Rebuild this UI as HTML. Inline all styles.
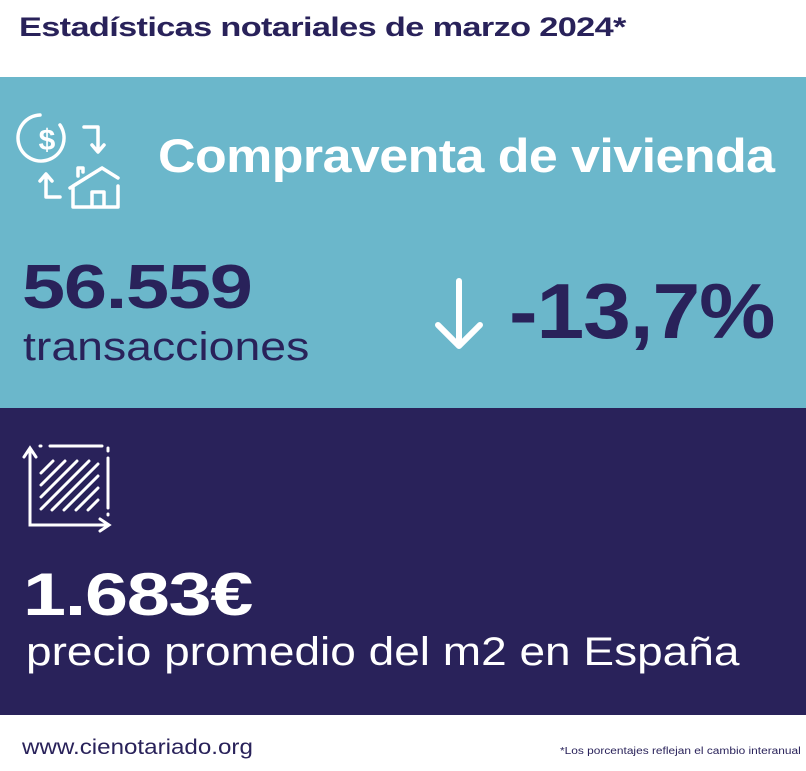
<!DOCTYPE html>
<html><head><meta charset="utf-8"><style>
*{margin:0;padding:0}
body{width:806px;height:771px;background:#fff;position:relative;font-family:"Liberation Sans",sans-serif;overflow:hidden}
.a{position:absolute;white-space:nowrap;transform-origin:0 0}
</style></head><body>
<div class="a" style="left:19px;top:12px;font-size:27px;font-weight:bold;color:#29225a;letter-spacing:-0.5px;transform:scaleX(1.27)">Estadísticas notariales de marzo 2024*</div>
<div class="a" style="left:0;top:77px;width:806px;height:331px;background:#6bb7cb"></div>
<div class="a" style="left:0;top:408px;width:806px;height:307px;background:#29225a"></div>
<svg class="a" style="left:0;top:100px" width="160" height="120" viewBox="0 0 160 120" fill="none" stroke="#fff" stroke-width="3.5" stroke-linecap="round" stroke-linejoin="round">
<path d="M60 25 A23 23 0 1 1 40 15"/>
<text x="47" y="50" font-size="30" font-weight="bold" fill="#fff" stroke="none" text-anchor="middle" font-family="Liberation Sans">$</text>
<path d="M84 27h14v24M92 45l6 7 6-7"/>
<path d="M60 97h-14v-22M40 81l6-7 6 7"/>
<path d="M70 88l32-20 16 10M118 86v21H73V86l29-18M78 76v-8h5v4M92 107V92h12v15"/>
</svg>
<div class="a" style="left:158px;top:128px;font-size:47px;font-weight:bold;color:#fff;letter-spacing:-0.5px;transform:scaleX(1.105)">Compraventa de vivienda</div>
<div class="a" style="left:22px;top:252px;font-size:62px;font-weight:bold;color:#29225a;letter-spacing:-1px;transform:scaleX(1.25)">56.559</div>
<div class="a" style="left:23px;top:325px;font-size:40px;color:#29225a;transform:scaleX(1.16)">transacciones</div>
<svg class="a" style="left:430px;top:275px" width="60" height="80" stroke="#fff" stroke-width="6" fill="none" stroke-linecap="round" stroke-linejoin="round"><path d="M29 6v64M8 50l21 21 21-21"/></svg>
<div class="a" style="left:509px;top:266px;font-size:78px;font-weight:bold;color:#29225a;letter-spacing:-1px;transform:scaleX(1.1)">-13,7%</div>
<svg class="a" style="left:0;top:430px" width="140" height="110" viewBox="0 0 140 110" fill="none" stroke="#fff" stroke-width="3" stroke-linecap="round">
<path d="M30 20v75h78M24 27l6-9 6 9M100 89l9 6-9 6"/>
<path d="M40 16h1M50 16h52M108 18v3M108 28v50M108 84v1"/>
<path d="M41 43l12-12M41 55l24-24M41 67l36-36M41 79l48-48M52 80l46-46M64 80l34-34M76 80l22-22M88 80l10-10"/>
</svg>
<div class="a" style="left:23px;top:560px;font-size:60px;font-weight:bold;color:#fff;letter-spacing:-1px;transform:scaleX(1.29)">1.683€</div>
<div class="a" style="left:26px;top:630px;font-size:40px;color:#fff;transform:scaleX(1.15)">precio promedio del m2 en España</div>
<div class="a" style="left:22px;top:736px;font-size:21px;color:#29225a;transform:scaleX(1.15)">www.cienotariado.org</div>
<div class="a" style="left:560px;top:746px;font-size:10px;color:#29225a;transform:scaleX(1.19)">*Los porcentajes reflejan el cambio interanual</div>
</body></html>
